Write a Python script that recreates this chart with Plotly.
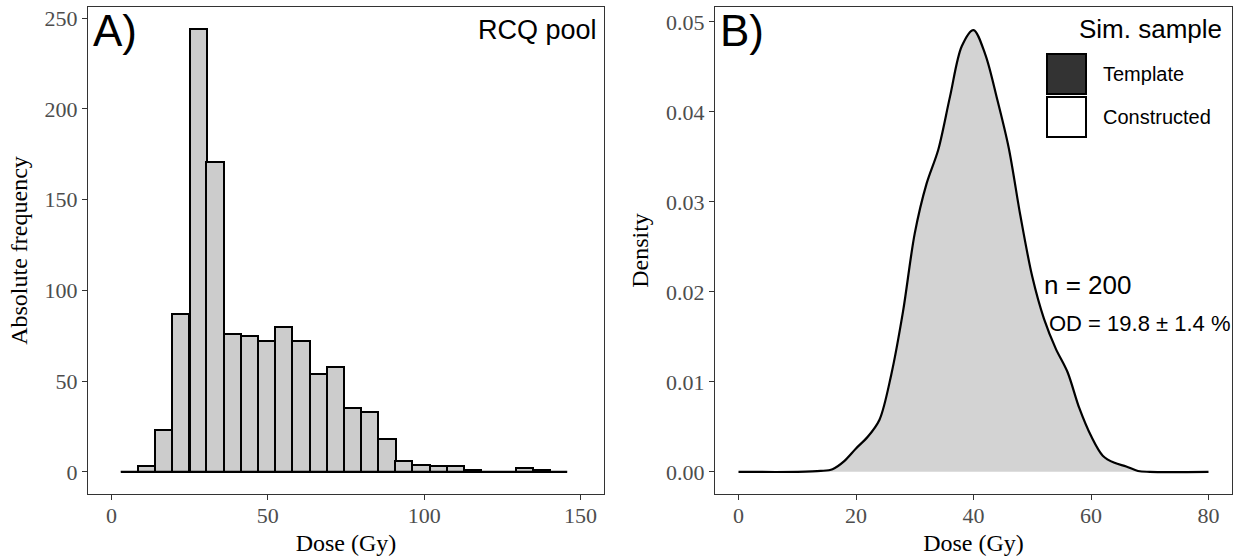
import plotly.graph_objects as go

# ---------------- data ----------------
# Panel A: histogram of RCQ pool doses (bin centres in Gy and counts)
bin_centers = [5.7, 11.2, 16.7, 22.2, 27.7, 33.1, 38.6, 44.1, 49.6, 55.1, 60.6, 66.1, 71.6,
               77.1, 82.6, 88.1, 93.5, 99.0, 104.5, 110.0, 115.5, 121.0, 126.5, 132.0, 137.5, 143.0]
bin_width = 5.49
counts = [0, 3, 23, 87, 244, 171, 76, 75, 72, 80, 72, 54, 58,
          35, 33, 18, 6, 4, 3, 3, 1, 0, 0, 2, 1, 0]

# Panel B: density of the simulated sample
dens_x = [0, 10, 14, 16, 18, 20, 22, 24, 26, 28, 30, 32, 34, 36, 38, 40, 42, 44, 46, 48,
          50, 52, 54, 56, 58, 60, 62, 64, 66, 68, 70, 80]
dens_y = [0.0, 0.0, 0.0001, 0.0003, 0.0012, 0.0026, 0.0039, 0.0058, 0.0108, 0.0178, 0.0265,
          0.0320, 0.0358, 0.0417, 0.0473, 0.0491, 0.0464, 0.0415, 0.0360, 0.0284, 0.0217,
          0.0170, 0.0137, 0.0111, 0.0071, 0.0040, 0.0018, 0.0010, 0.0006, 0.0001, 0.0, 0.0]

legend_labels = ["Template", "Constructed"]
legend_fills = ["#333333", "#FFFFFF"]

W, H = 1234, 556
SERIF = "Liberation Serif"
SANS = "Liberation Sans"


def px(x):
    return x / W


def py(y):
    return 1 - y / H


fig = go.Figure()

# baseline under the histogram (outline of empty bins)
edges_lo = bin_centers[0] - bin_width / 2
edges_hi = bin_centers[-1] + bin_width / 2
fig.add_trace(go.Scatter(x=[edges_lo, edges_hi], y=[0, 0], mode="lines",
                         line=dict(color="black", width=2), showlegend=False,
                         hoverinfo="skip", xaxis="x", yaxis="y"))
fig.add_trace(go.Bar(x=bin_centers, y=counts, width=bin_width,
                     marker=dict(color="#CCCCCC", line=dict(color="black", width=2)),
                     showlegend=False, xaxis="x", yaxis="y"))

fig.add_trace(go.Scatter(x=dens_x, y=dens_y, mode="lines", fill="tozeroy",
                         fillcolor="#D3D3D3",
                         line=dict(color="black", width=2.2, shape="spline", smoothing=0.9),
                         showlegend=False, xaxis="x2", yaxis="y2"))

axis_common = dict(showline=True, mirror=True, linecolor="#333333", linewidth=1.3,
                   ticks="outside", ticklen=5, tickwidth=1.3, tickcolor="#333333",
                   showgrid=False, zeroline=False,
                   tickfont=dict(family=SERIF, size=22, color="#4D4D4D"))
ydom = [py(494), py(7)]

fig.update_layout(
    width=W, height=H, margin=dict(l=0, r=0, t=0, b=0),
    paper_bgcolor="white", plot_bgcolor="white", bargap=0,
    xaxis=dict(domain=[px(88), px(604)], range=[-7.5, 157.5], tickvals=[0, 50, 100, 150],
               ticklabelstandoff=-4,
               title=dict(text="Dose (Gy)", font=dict(family=SERIF, size=24, color="black"),
                          standoff=8),
               anchor="y", **axis_common),
    yaxis=dict(domain=ydom, range=[-12.2, 256.2], tickvals=[0, 50, 100, 150, 200, 250],
               title=dict(text="Absolute frequency", font=dict(family=SERIF, size=24, color="black"),
                          standoff=10),
               anchor="x", **axis_common),
    xaxis2=dict(domain=[px(715), px(1232)], range=[-4, 84], tickvals=[0, 20, 40, 60, 80],
                ticklabelstandoff=-4,
                title=dict(text="Dose (Gy)", font=dict(family=SERIF, size=24, color="black"),
                           standoff=8),
                anchor="y2", **axis_common),
    yaxis2=dict(domain=ydom, range=[-0.00246, 0.05166],
                tickvals=[0, 0.01, 0.02, 0.03, 0.04, 0.05],
                ticktext=["0.00", "0.01", "0.02", "0.03", "0.04", "0.05"],
                title=dict(text="Density", font=dict(family=SERIF, size=24, color="black"),
                           standoff=10),
                anchor="x2", **axis_common),
)

# legend keys drawn as boxes
key_tops = [54, 97]
for i, (lab, col) in enumerate(zip(legend_labels, legend_fills)):
    t = key_tops[i]
    fig.add_shape(type="rect", xref="paper", yref="paper",
                  x0=px(1047), x1=px(1086), y0=py(t + 40), y1=py(t),
                  fillcolor=col, line=dict(color="black", width=2))
    fig.add_annotation(xref="paper", yref="paper", x=px(1101), y=py(t + 20),
                       text=lab, showarrow=False, xanchor="left", yanchor="middle",
                       font=dict(family=SANS, size=20, color="black"))

fig.add_annotation(xref="paper", yref="paper", x=px(1224), y=py(29), text="Sim. sample",
                   showarrow=False, xanchor="right", yanchor="middle",
                   font=dict(family=SANS, size=26, color="black"))

fig.add_annotation(xref="paper", yref="paper", x=px(91), y=py(30), text="A)",
                   showarrow=False, xanchor="left", yanchor="middle",
                   font=dict(family=SANS, size=44, color="black"))
fig.add_annotation(xref="paper", yref="paper", x=px(718), y=py(30), text="B)",
                   showarrow=False, xanchor="left", yanchor="middle",
                   font=dict(family=SANS, size=44, color="black"))
fig.add_annotation(xref="paper", yref="paper", x=px(599), y=py(30), text="RCQ pool",
                   showarrow=False, xanchor="right", yanchor="middle",
                   font=dict(family=SANS, size=27, color="black"))
fig.add_annotation(xref="paper", yref="paper", x=px(1042), y=py(285), text="n = 200",
                   showarrow=False, xanchor="left", yanchor="middle",
                   font=dict(family=SANS, size=26, color="black"))
fig.add_annotation(xref="paper", yref="paper", x=px(1047), y=py(323),
                   text="OD = 19.8 ± 1.4 %",
                   showarrow=False, xanchor="left", yanchor="middle",
                   font=dict(family=SANS, size=22, color="black"))

fig.write_html("out.html")
